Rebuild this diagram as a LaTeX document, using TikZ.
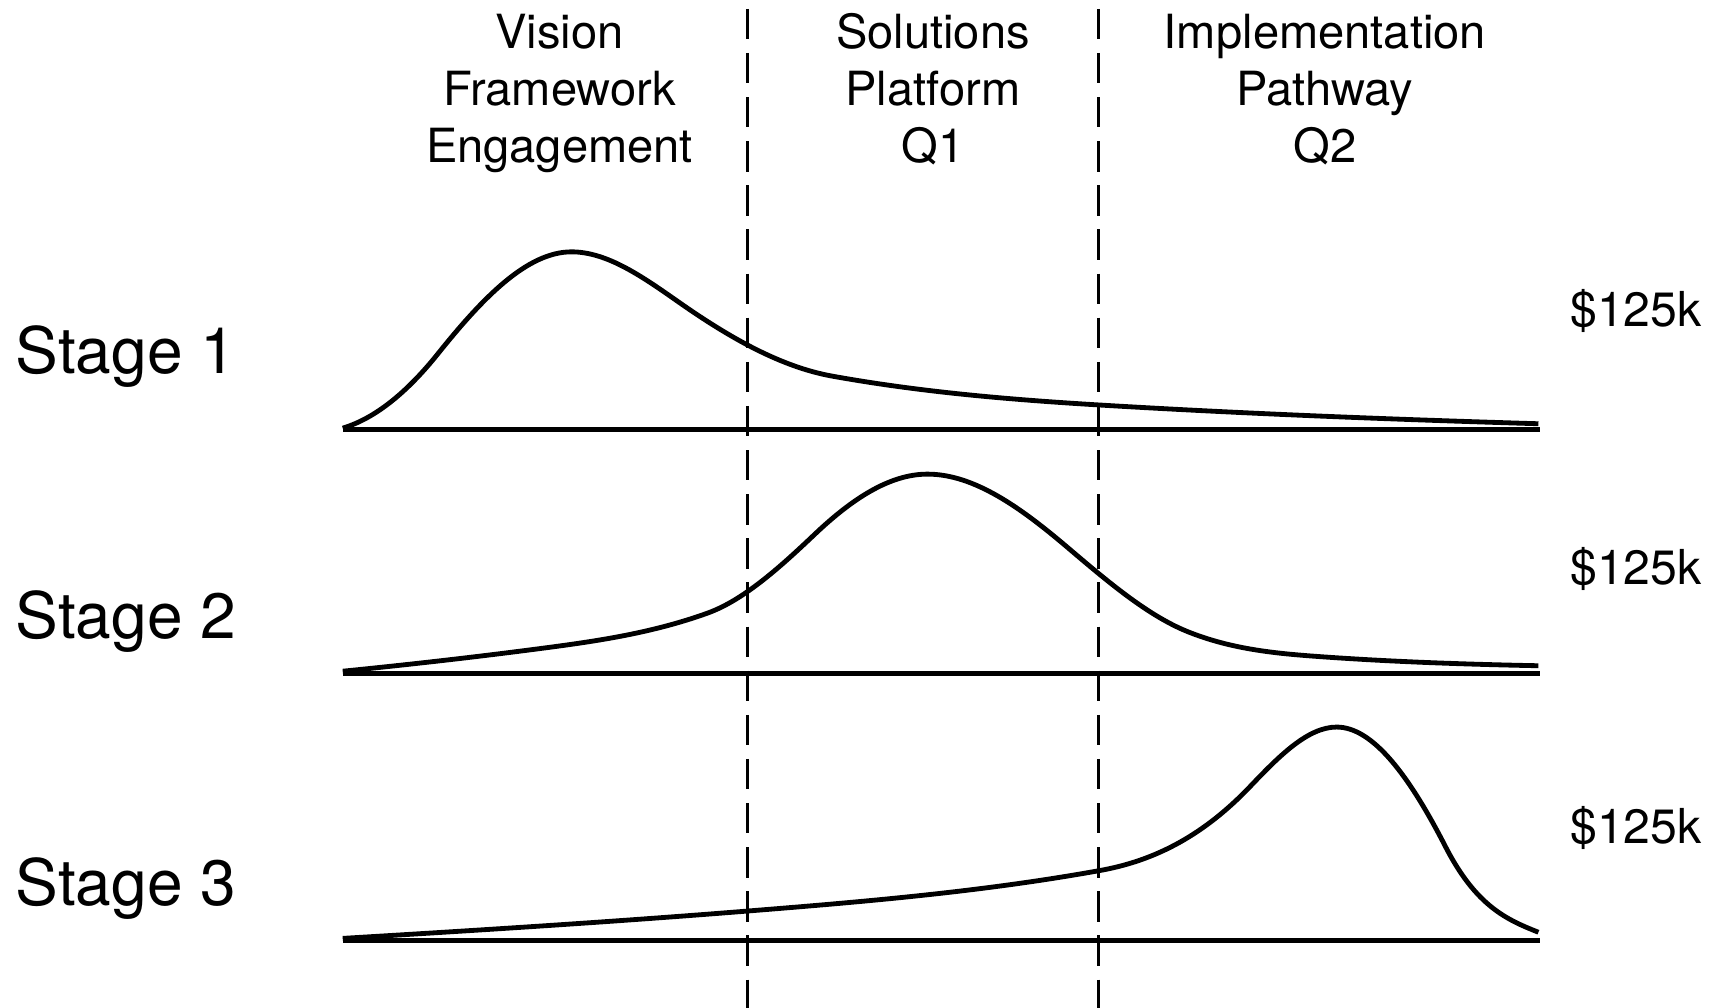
\documentclass[tikz,border=0pt]{standalone}
\usepackage{fontspec}
\setmainfont{TeX Gyre Heros}
\begin{document}
\begin{tikzpicture}[x=1pt,y=-1pt,
  hdr/.style={font=\fontsize{43}{52}\selectfont, anchor=base, inner sep=0pt},
  stg/.style={font=\fontsize{58.5}{70}\selectfont, anchor=base west, inner sep=0pt},
  amt/.style={font=\fontsize{44}{52}\selectfont, anchor=base west, inner sep=0pt},
  axisline/.style={line width=4.8pt},
  curveline/.style={line width=4.4pt, line join=round},
  sepline/.style={line width=2.6pt, dash pattern=on 27.8pt off 12.5pt}]
\useasboundingbox (0,0) rectangle (1569,920);

% header texts
\node[hdr] (h1a) at (511,44) {Vision};
\node[hdr] (h1b) at (511,96) {Framework};
\node[hdr] (h1c) at (511,148) {Engagement};
\node[hdr] (h2a) at (852,44) {Solutions};
\node[hdr] (h2b) at (852,96) {Platform};
\node[hdr] (h2c) at (852,148) {Q1};
\node[hdr] (h3a) at (1210,44) {Implementation};
\node[hdr] (h3b) at (1210,96) {Pathway};
\node[hdr] (h3c) at (1210,148) {Q2};

% stage labels
\node[stg] (s1) at (14,341) {Stage 1};
\node[stg] (s2) at (14,583) {Stage 2};
\node[stg] (s3) at (14,827) {Stage 3};

% amounts
\node[amt] (a1) at (1434,298) {\$125k};
\node[amt] (a2) at (1434,534) {\$125k};
\node[amt] (a3) at (1434,770) {\$125k};

% dashed separators
\coordinate (d1t) at (683,8);
\coordinate (d1b) at (683,921);
\coordinate (d2t) at (1003,8);
\coordinate (d2b) at (1003,921);
\draw[sepline] (d1t) -- (d1b);
\draw[sepline] (d2t) -- (d2b);

% base lines
\coordinate (b1l) at (313,392);
\coordinate (b1r) at (1406,392);
\coordinate (b2l) at (313,615);
\coordinate (b2r) at (1406,615);
\coordinate (b3l) at (313,859);
\coordinate (b3r) at (1406,859);
\draw[axisline] (b1l) -- (b1r);
\draw[axisline] (b2l) -- (b2r);
\draw[axisline] (b3l) -- (b3r);

% stage 1 curve
\draw[curveline] (313,391)
  .. controls (342,382.3) and (371,359.25) .. (400,323)
  .. controls (440.7,272.2) and (481.3,230) .. (522,230)
  .. controls (554.7,230) and (587.3,253.1) .. (620,276)
  .. controls (666.67,308.67) and (713.33,335.1) .. (760,343.5)
  .. controls (841.53,358.18) and (923.07,365.01) .. (1004.6,369.9)
  .. controls (1138.07,377.91) and (1271.53,383) .. (1405,387);

% stage 2 curve
\draw[curveline] (313,613)
  .. controls (371.3,607.17) and (429.7,600.58) .. (488,593)
  .. controls (540.7,586.15) and (593.3,578.96) .. (646,560)
  .. controls (678.67,548.24) and (711.33,519.03) .. (744,488)
  .. controls (778.33,455.4) and (812.67,433) .. (847,433)
  .. controls (889.67,433) and (932.33,463.73) .. (975,500)
  .. controls (1011.67,531.17) and (1048.33,562.33) .. (1085,577)
  .. controls (1126.67,593.67) and (1168.33,597.08) .. (1210,600)
  .. controls (1275,604.55) and (1340,606.7) .. (1405,608);

% stage 3 curve
\draw[curveline] (313,857)
  .. controls (436.3,849.6) and (559.7,841.9) .. (683,832)
  .. controls (790.2,823.42) and (897.4,814.3) .. (1004.6,795)
  .. controls (1050.27,786.78) and (1095.93,766.35) .. (1141.6,718.4)
  .. controls (1167.97,690.71) and (1194.33,664) .. (1220.7,664)
  .. controls (1253.8,664) and (1286.9,708.5) .. (1320,773)
  .. controls (1348.3,828.2) and (1376.67,840.07) .. (1405,851.4);
\end{tikzpicture}
\end{document}
